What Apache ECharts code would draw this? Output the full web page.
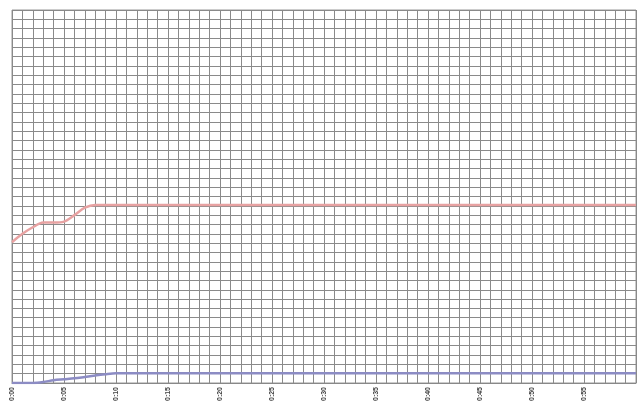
<!DOCTYPE html>
<html><head><meta charset="utf-8">
<script src="https://cdn.jsdelivr.net/npm/echarts@6/dist/echarts.min.js"></script>
<style>html,body{margin:0;padding:0;background:#fff}#c{width:641px;height:408px;filter:blur(0.6px)}</style>
</head><body><div id="c"></div>
<script>
// x positions (minutes) and values
const xValues = [0,1,2,3,4,5,6,7,8,9,10,15,20,25,30,35,40,45,50,55,60];
const redValues = [15.1,16.0,16.7,17.2,17.2,17.3,18.0,18.8,19.1,19.1,19.1,19.1,19.1,19.1,19.1,19.1,19.1,19.1,19.1,19.1,19.1];
const blueValues = [0,0,0,0.1,0.3,0.4,0.5,0.65,0.8,0.95,1.05,1.05,1.05,1.05,1.05,1.05,1.05,1.05,1.05,1.05,1.05];
const xTickLabels = ['0:00','0:05','0:10','0:15','0:20','0:25','0:30','0:35','0:40','0:45','0:50','0:55'];

const chart = echarts.init(document.getElementById('c'));
chart.setOption({
  animation:false,
  backgroundColor:'#fff',
  grid:{left:12,right:5,top:10,bottom:25,show:true,borderColor:'#999',borderWidth:1},
  xAxis:{type:'value',min:0,max:60,interval:1,
    axisLine:{show:true,lineStyle:{color:'#888'}},
    axisTick:{show:false},
    splitLine:{show:true,lineStyle:{color:'#8a8a8a',width:1}},
    axisLabel:{rotate:90,fontSize:7,fontWeight:'bold',color:'#444',margin:4,
      formatter:v=>(v%5===0 && v/5<xTickLabels.length)?xTickLabels[v/5]:''}},
  yAxis:{type:'value',min:0,max:40,interval:1,
    axisLine:{show:false},axisTick:{show:false},axisLabel:{show:false},
    splitLine:{show:true,lineStyle:{color:'#8a8a8a',width:1}}},
  series:[
    {type:'line',data:xValues.map((x,i)=>[x,redValues[i]]),showSymbol:false,smooth:0.3,
      lineStyle:{color:'#e8a2a2',width:2.5}},
    {type:'line',data:xValues.map((x,i)=>[x,blueValues[i]]),showSymbol:false,smooth:0.3,
      lineStyle:{color:'#8c8cc4',width:2.5}}
  ]
});
</script></body></html>
